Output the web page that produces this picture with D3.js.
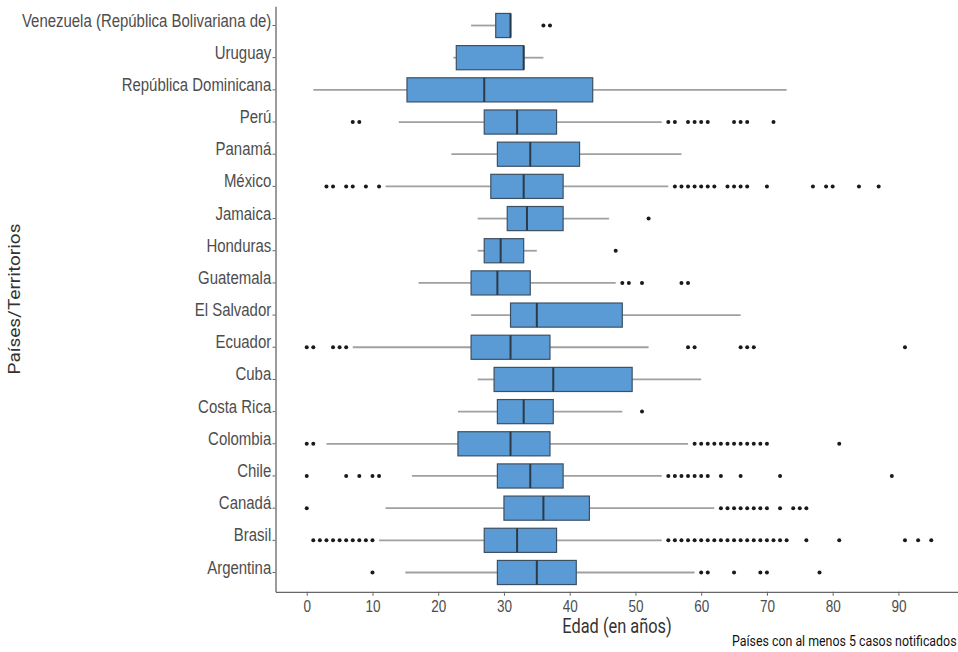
<!DOCTYPE html>
<html>
<head>
<meta charset="utf-8">
<script src="https://cdn.jsdelivr.net/npm/d3@7"></script>
<style>
  body { margin: 0; background: #fff; }
  svg { display: block; font-family: Roboto, "Liberation Sans", sans-serif; }
</style>
</head>
<body>
<svg width="958" height="652"></svg>
<script>
// countries, top to bottom
const countries = [
    "Venezuela (República Bolivariana de)", "Uruguay", "República Dominicana", "Perú",
    "Panamá", "México", "Jamaica", "Honduras", "Guatemala", "El Salvador", "Ecuador",
    "Cuba", "Costa Rica", "Colombia", "Chile", "Canadá", "Brasil", "Argentina"
]

// box stats (edad en años)
const mins    = [25,   22.3,  1,     14, 22,   12, 26,   26, 17, 25, 7,  26,   23,   3,  16, 12, 11, 15]
const q1s     = [28.75, 22.75, 15.25, 27, 29,   28, 30.5, 27, 25, 31, 25, 28.5, 29,   23, 29, 30, 27, 29]
const medians = [31,   33,    27,    32, 34,   33, 33.5, 29.5, 29, 35, 31, 37.5, 33,   31, 34, 36, 32, 35]
const q3s     = [31,   33,    43.5,  38, 41.5, 39, 39,   33, 34, 48, 37, 49.5, 37.5, 37, 39, 43, 38, 41]
const maxs    = [31,   36,    73,    54, 57,   55, 46,   35, 47, 66, 52, 60,   48,   58, 54, 62, 54, 59]

const outliers = [
    [36, 37],
    [],
    [],
    [7, 8, 55, 56, 58, 59, 60, 61, 65, 66, 67, 71],
    [],
    [3, 4, 6, 7, 9, 11, 56, 57, 58, 59, 60, 61, 62, 64, 65, 66, 67, 70, 77, 79, 80, 84, 87],
    [52],
    [47],
    [48, 49, 51, 57, 58],
    [],
    [0, 1, 4, 5, 6, 58, 59, 66, 67, 68, 91],
    [],
    [51],
    [0, 1, 59, 60, 61, 62, 63, 64, 65, 66, 67, 68, 69, 70, 81],
    [0, 6, 8, 10, 11, 55, 56, 57, 58, 59, 60, 61, 63, 66, 72, 89],
    [0, 63, 64, 65, 66, 67, 68, 69, 70, 72, 74, 75, 76],
    [1, 2, 3, 4, 5, 6, 7, 8, 9, 10, 55, 56, 57, 58, 59, 60, 61, 62, 63, 64, 65, 66, 67, 68, 69, 70, 71, 72, 73, 76, 81, 91, 93, 95],
    [10, 60, 61, 65, 69, 70, 78]
]

const xTicks = [0, 10, 20, 30, 40, 50, 60, 70, 80, 90]

const data = countries.map((c, i) => ({
    country: c, min: mins[i], q1: q1s[i], median: medians[i], q3: q3s[i], max: maxs[i], out: outliers[i]
}))

const SX = 0.82 // text looks horizontally squeezed in the reference
const BOX_FILL = "#5b9bd5"
const BOX_STROKE = "#3c5063"

const svg = d3.select("svg")

const xScale = d3.scaleLinear().domain([-4.75, 99.75]).range([275.5, 962.5])
const yScale = d3.scaleBand().domain(countries).range([6.2, 591.8])
    .paddingInner(0).paddingOuter(0.1)
const bh = yScale.bandwidth() * 0.75

// boxes
svg.selectAll("g.box")
    .data(data)
    .enter()
    .append("g")
    .attr("class", "box")
    .attr("transform", d => `translate(0,${yScale(d.country) + yScale.bandwidth() / 2})`)
    .each(function (d) {
        const g = d3.select(this)

        // whiskers
        g.append("line")
            .attr("x1", xScale(d.min)).attr("x2", xScale(d.q1))
            .attr("y1", 0).attr("y2", 0)
            .style("stroke", "#a0a0a0").style("stroke-width", "1.8px")
        g.append("line")
            .attr("x1", xScale(d.q3)).attr("x2", xScale(d.max))
            .attr("y1", 0).attr("y2", 0)
            .style("stroke", "#a0a0a0").style("stroke-width", "1.8px")

        g.append("rect")
            .attr("x", xScale(d.q1))
            .attr("y", -bh / 2)
            .attr("width", xScale(d.q3) - xScale(d.q1))
            .attr("height", bh)
            .style("fill", BOX_FILL)
            .style("stroke", BOX_STROKE)
            .style("stroke-width", "1.2px")

        g.append("line")
            .attr("x1", xScale(d.median)).attr("x2", xScale(d.median))
            .attr("y1", -bh / 2).attr("y2", bh / 2)
            .style("stroke", "#2b3a48").style("stroke-width", "2px")

        g.selectAll("circle")
            .data(d.out)
            .enter()
            .append("circle")
            .attr("cx", v => xScale(v))
            .attr("cy", 0)
            .attr("r", 2)
            .style("fill", "#1a1a1a")
    })

// y axis
const yAxis = d3.axisLeft(yScale).tickSize(3).tickSizeOuter(0).tickPadding(2)
const yAxisG = svg.append("g")
    .attr("transform", `translate(${xScale(-4.75)},0)`)
    .call(yAxis)
yAxisG.selectAll("text")
    .attr("dy", "1px")
    .attr("transform", "scale(0.855,1)")
    .style("font-size", "17.5px")
    .style("fill", "#4d4d4d")

// x axis
const xAxis = d3.axisBottom(xScale).tickValues(xTicks).tickSize(4).tickSizeOuter(0).tickPadding(4)
const xAxisG = svg.append("g")
    .attr("transform", `translate(0,${yScale.range()[1]})`)
    .call(xAxis)
xAxisG.selectAll("text")
    .attr("transform", `scale(${SX},1)`)
    .style("font-size", "16.5px")
    .style("fill", "#4d4d4d")

svg.selectAll(".domain").style("stroke", "#666").style("stroke-width", "1.3px")
svg.selectAll(".tick line").style("stroke", "#666")

// axis titles
svg.append("text")
    .attr("transform", `translate(617,633) scale(${SX},1)`)
    .style("text-anchor", "middle")
    .style("font-size", "20px")
    .style("fill", "#333")
    .text("Edad (en años)")

svg.append("text")
    .attr("transform", `translate(20,299) scale(${SX},1) rotate(-90)`)
    .style("text-anchor", "middle")
    .style("font-size", "19px")
    .style("fill", "#333")
    .text("Países/Territorios")

// footnote
svg.append("text")
    .attr("transform", "translate(732,646) scale(0.885,1)")
    .style("font-size", "14px")
    .style("fill", "#111")
    .text("Países con al menos 5 casos notificados")
</script>
</body>
</html>
